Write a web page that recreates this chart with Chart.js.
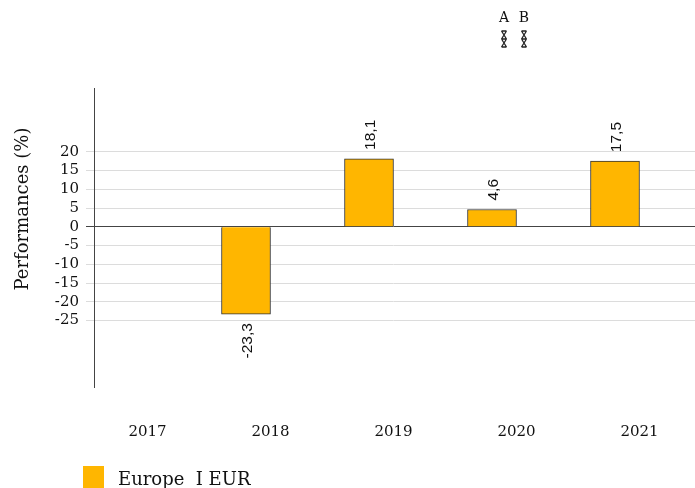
<!DOCTYPE html>
<html>
<head>
<meta charset="utf-8">
<script src="https://cdn.jsdelivr.net/npm/chart.js@4"></script>
<style>
html, body { margin: 0; padding: 0; background: #fff; overflow: hidden; }
#wrap { width: 701px; height: 488px; position: relative; }
</style>
</head>
<body>
<div id="wrap"><canvas id="myChart"></canvas></div>
<script>
let years = ['2017', '2018', '2019', '2020', '2021']
let perf = [null, -23.3, 18.1, 4.6, 17.5]
let seriesName = 'Europe  I EUR'
let tickValues = [20, 15, 10, 5, 0, -5, -10, -15, -20, -25]
let topLegend = ['A', 'B']
let barColor = '#FFB600'

let serif = '"DejaVu Serif", "Liberation Serif", serif'

// labels, axis line, legends
let extras = {
    id: 'extras',
    afterDraw(chart) {
        let ctx = chart.ctx
        let area = chart.chartArea
        ctx.save()

        // y axis line
        ctx.strokeStyle = '#444'
        ctx.lineWidth = 1
        ctx.beginPath()
        ctx.moveTo(area.left + 8.5, area.top)
        ctx.lineTo(area.left + 8.5, area.bottom)
        ctx.stroke()

        // value labels
        let meta = chart.getDatasetMeta(0)
        ctx.font = '15.5px "Liberation Sans", Arial, sans-serif'
        ctx.fillStyle = '#111'
        ctx.textBaseline = 'middle'
        meta.data.forEach(function(bar, i) {
            let v = perf[i]
            if (v === null) return
            let txt = String(v).replace('.', ',')
            ctx.save()
            ctx.translate(bar.x + 1, bar.y + (v >= 0 ? -9 : 9))
            ctx.rotate(-Math.PI / 2)
            ctx.textAlign = v >= 0 ? 'left' : 'right'
            ctx.fillText(txt, 0, 1)
            ctx.restore()
        })

        // y title
        ctx.save()
        ctx.translate(23, 209)
        ctx.rotate(-Math.PI / 2)
        ctx.font = '18px ' + serif
        ctx.textAlign = 'center'
        ctx.textBaseline = 'middle'
        ctx.fillStyle = '#111'
        ctx.fillText('Performances (%)', 0, 0)
        ctx.restore()

        // bottom legend
        ctx.fillStyle = barColor
        ctx.fillRect(83, 466, 21, 22)
        ctx.fillStyle = '#111'
        ctx.font = '18px ' + serif
        ctx.textAlign = 'left'
        ctx.textBaseline = 'alphabetic'
        ctx.fillText(seriesName, 118, 485)

        // top legend
        ctx.font = '14px ' + serif
        ctx.textAlign = 'center'
        topLegend.forEach(function(t, i) {
            let x = 504 + i * 20
            ctx.fillStyle = '#111'
            ctx.fillText(t, x, 22)
            ctx.strokeStyle = '#222'
            ctx.lineWidth = 1.3
            ctx.beginPath()
            ctx.moveTo(x - 2.5, 31); ctx.lineTo(x + 2.5, 39)
            ctx.moveTo(x + 2.5, 31); ctx.lineTo(x - 2.5, 39)
            ctx.moveTo(x - 2.5, 39); ctx.lineTo(x + 2.5, 47)
            ctx.moveTo(x + 2.5, 39); ctx.lineTo(x - 2.5, 47)
            ctx.moveTo(x - 2.5, 31); ctx.lineTo(x + 2.5, 31)
            ctx.moveTo(x - 2.5, 39); ctx.lineTo(x + 2.5, 39)
            ctx.moveTo(x - 2.5, 47); ctx.lineTo(x + 2.5, 47)
            ctx.stroke()
        })

        ctx.restore()
    }
}

let chartCtx = document.getElementById('myChart').getContext('2d')
let myChart = new Chart(chartCtx, {
    type: 'bar',
    data: {
        labels: years,
        datasets: [
            {
                label: seriesName,
                data: perf,
                backgroundColor: barColor,
                borderColor: '#333',
                borderWidth: 1,
                barThickness: 49,
            },
            {
                label: '',
                data: years.map(() => null),
                barThickness: 49,
            },
        ],
    },
    options: {
        responsive: true,
        maintainAspectRatio: false,
        animation: false,
        layout: { padding: { top: 88, left: 0, right: 0, bottom: 0 } },
        plugins: {
            legend: { display: false },
            tooltip: { enabled: false },
        },
        scales: {
            x: {
                grid: { display: false },
                border: { display: false },
                ticks: { padding: 27, color: '#111', font: { family: serif, size: 15 } },
                afterFit: function(s) { s.height = 100 },
            },
            y: {
                min: -43,
                max: 37,
                grid: {
                    drawTicks: false,
                    color: c => c.tick && c.tick.value === 0 ? '#444' : '#dcdcdc',
                },
                border: { display: false },
                ticks: { padding: 7, color: '#111', font: { family: serif, size: 15 } },
                afterBuildTicks: function(s) { s.ticks = tickValues.map(v => ({ value: v })) },
                afterFit: function(s) { s.width = 86 },
            },
        },
    },
    plugins: [extras],
})
</script>
</body>
</html>
